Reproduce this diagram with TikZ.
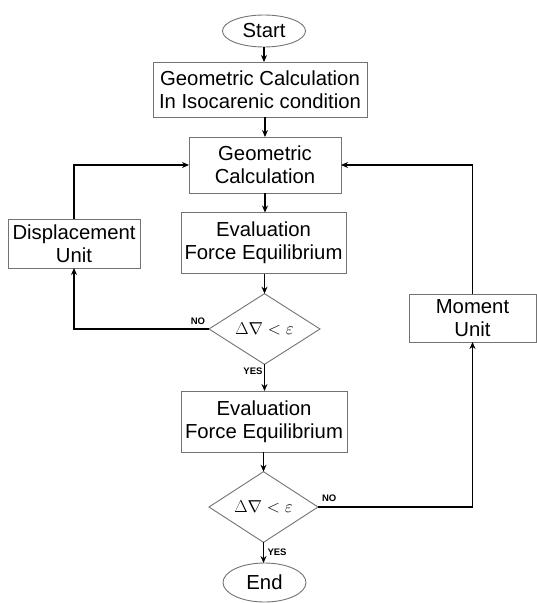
\documentclass[tikz,border=0pt]{standalone}
\usepackage{fontspec}
\setmainfont{Liberation Sans}
\usetikzlibrary{shapes.geometric,arrows.meta}
\begin{document}
\begin{tikzpicture}[x=1pt,y=-1pt,
  every node/.style={inner sep=0pt, outer sep=0pt},
  boxnode/.style={draw=black!55, line width=0.9pt, fill=white, align=center,
    font=\fontsize{20.3}{23}\selectfont},
  termnode/.style={ellipse, draw=black!55, line width=0.9pt, font=\fontsize{20.3}{23}\selectfont},
  dianode/.style={diamond, draw=black!55, line width=0.9pt, font=\fontsize{18.5}{22}\selectfont},
  conn/.style={line width=1.1pt, -{Stealth[length=7pt,width=6pt]}},
  lbl/.style={font=\bfseries\fontsize{9.5}{11}\selectfont}]
\useasboundingbox (0,0) rectangle (537,603);
\node[termnode, minimum width=83pt, minimum height=32pt] (start) at (264,31) {Start};
\node[boxnode, minimum width=214pt, minimum height=55pt] (geo1) at (260,89.5) {Geometric Calculation\\In Isocarenic condition};
\node[boxnode, minimum width=152pt, minimum height=56pt] (geo2) at (265,165) {Geometric\\Calculation};
\node[boxnode, minimum width=132pt, minimum height=49pt] (disp) at (74,243.5) {Displacement\\Unit};
\node[boxnode, minimum width=165pt, minimum height=61pt] (eval1) at (263.5,243) {Evaluation\\Force Equilibrium};
\node[dianode, minimum width=111pt, minimum height=68pt] (dia1) at (264.5,329) {$\Delta\nabla<\varepsilon$};
\node[boxnode, minimum width=166pt, minimum height=61pt] (eval2) at (264,421.5) {Evaluation\\Force Equilibrium};
\node[dianode, minimum width=109pt, minimum height=66pt] (dia2) at (263.5,507) {$\Delta\nabla<\varepsilon$};
\node[termnode, minimum width=83pt, minimum height=39pt] (end) at (264.5,582.5) {End};
\node[boxnode, minimum width=127pt, minimum height=48pt] (moment) at (472.5,318) {Moment\\Unit};

\draw[conn] (start.south) -- (start.south |- geo1.north);
\draw[conn] (geo1.south -| geo2.north) -- (geo2.north);
\draw[conn] (geo2.south) -- (geo2.south |- eval1.north);
\draw[conn] (eval1.south -| dia1.north) -- (dia1.north);
\draw[conn] (dia1.west) -- (dia1.west -| disp.south) -- (disp.south);
\draw[conn] (disp.north) -- (disp.north |- geo2.west) -- (geo2.west);
\draw[conn] (dia1.south) -- (dia1.south |- eval2.north);
\draw[conn] (eval2.south -| dia2.north) -- (dia2.north);
\draw[conn] (dia2.east) -- (dia2.east -| moment.south) -- (moment.south);
\draw[conn] (moment.north) -- (moment.north |- geo2.east) -- (geo2.east);
\draw[conn] (dia2.south) -- (dia2.south |- end.north);
\node[lbl, anchor=south east] (no1) at ([xshift=-4pt,yshift=4pt]dia1.west) {NO};
\node[lbl, anchor=north east] (yes1) at ([xshift=-2pt,yshift=-4pt]dia1.south) {YES};
\node[lbl, anchor=south west] (no2) at ([xshift=4pt,yshift=5pt]dia2.east) {NO};
\node[lbl, anchor=north west] (yes2) at ([xshift=4pt,yshift=-7pt]dia2.south) {YES};
\end{tikzpicture}
\end{document}
